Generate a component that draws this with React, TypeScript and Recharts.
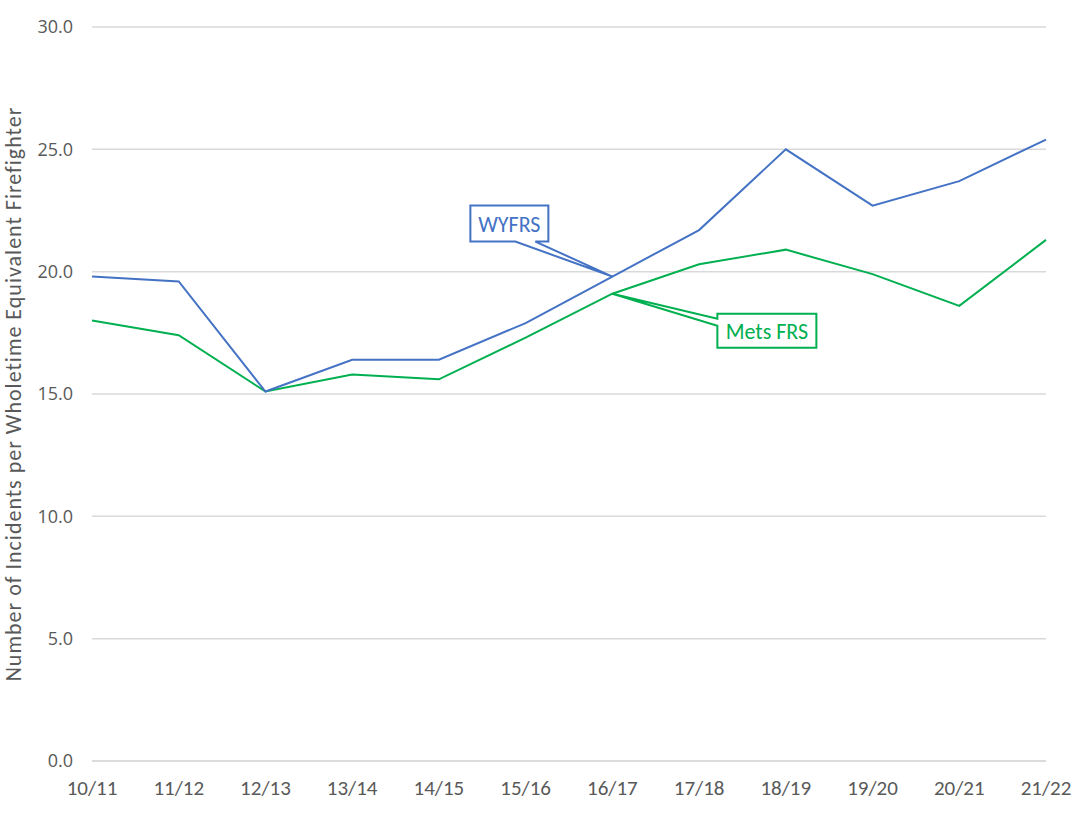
import { LineChart, Line, XAxis, YAxis, CartesianGrid } from 'recharts';

const years = ['10/11', '11/12', '12/13', '13/14', '14/15', '15/16', '16/17', '17/18', '18/19', '19/20', '20/21', '21/22'];
const wyfrs = [19.8, 19.6, 15.1, 16.4, 16.4, 17.9, 19.8, 21.7, 25.0, 22.7, 23.7, 25.4];
const metsFrs = [18.0, 17.4, 15.1, 15.8, 15.6, 17.3, 19.1, 20.3, 20.9, 19.9, 18.6, 21.3];
const yTicks = [0, 5, 10, 15, 20, 25, 30];

const BLUE = '#4472C4';
const GREEN = '#00B050';
const GREY = '#595959';
const NARROW = "Carlito, 'Liberation Sans Narrow', 'Open Sans', sans-serif";

const data = years.map((y, i) => ({ year: y, wyfrs: wyfrs[i], mets: metsFrs[i] }));

// callout anchored on the 16/17 point of each line
function wyfrsLabel(props: any) {
  if (props.index !== 6) return null;
  const { x, y } = props;
  const l = x - 142, r = x - 64, t = y - 71, b = y - 35;
  const d = `M${l},${t} L${r},${t} L${r},${b} L${x - 77},${b} L${x},${y} L${x - 97},${b} L${l},${b} Z`;
  return (
    <g>
      <path d={d} fill="#fff" stroke={BLUE} strokeWidth={2} />
      <text x={(l + r) / 2} y={(t + b) / 2 + 8} textAnchor="middle" fill={BLUE} fontSize={22} fontFamily={NARROW}>WYFRS</text>
    </g>
  );
}

function metsLabel(props: any) {
  if (props.index !== 6) return null;
  const { x, y } = props;
  const l = x + 105, r = x + 204, t = y + 20, b = y + 54;
  const d = `M${l},${t} L${r},${t} L${r},${b} L${l},${b} L${l},${y + 32} L${x},${y} L${l},${y + 25} Z`;
  return (
    <g>
      <path d={d} fill="#fff" stroke={GREEN} strokeWidth={2} />
      <text x={(l + r) / 2} y={(t + b) / 2 + 8} textAnchor="middle" fill={GREEN} fontSize={22} fontFamily={NARROW}>Mets FRS</text>
    </g>
  );
}

export default function App() {
  return (
    <div style={{ position: 'absolute', left: 0, top: 0, background: '#fff' }}>
      <LineChart width={1079} height={819} data={data} margin={{ top: 27, right: 33, bottom: 18, left: 0 }}>
        <CartesianGrid vertical={false} stroke="#d9d9d9" strokeWidth={1.5} />
        <XAxis
          dataKey="year"
          height={40}
          axisLine={{ stroke: '#d9d9d9', strokeWidth: 1.5 }}
          tickLine={false}
          tickSize={0}
          tickMargin={19}
          interval={0}
          tick={{ fill: GREY, fontSize: 21, fontFamily: NARROW }}
        />
        <YAxis
          width={92}
          domain={[0, 30]}
          ticks={yTicks}
          tickFormatter={(v: number) => v.toFixed(1)}
          axisLine={false}
          tickLine={false}
          tickSize={0}
          tickMargin={19}
          tick={{ fill: GREY, fontSize: 18, fontFamily: "'Open Sans', sans-serif" }}
          label={{
            value: 'Number of Incidents per Wholetime Equivalent Firefighter',
            angle: -90,
            position: 'insideLeft',
            offset: 13,
            style: { fill: GREY, fontSize: 22, letterSpacing: 1, fontFamily: NARROW, textAnchor: 'middle' },
          }}
        />
        <Line type="linear" dataKey="mets" stroke={GREEN} strokeWidth={2} dot={false} isAnimationActive={false} label={metsLabel} />
        <Line type="linear" dataKey="wyfrs" stroke={BLUE} strokeWidth={2} dot={false} isAnimationActive={false} label={wyfrsLabel} />
      </LineChart>
    </div>
  );
}
